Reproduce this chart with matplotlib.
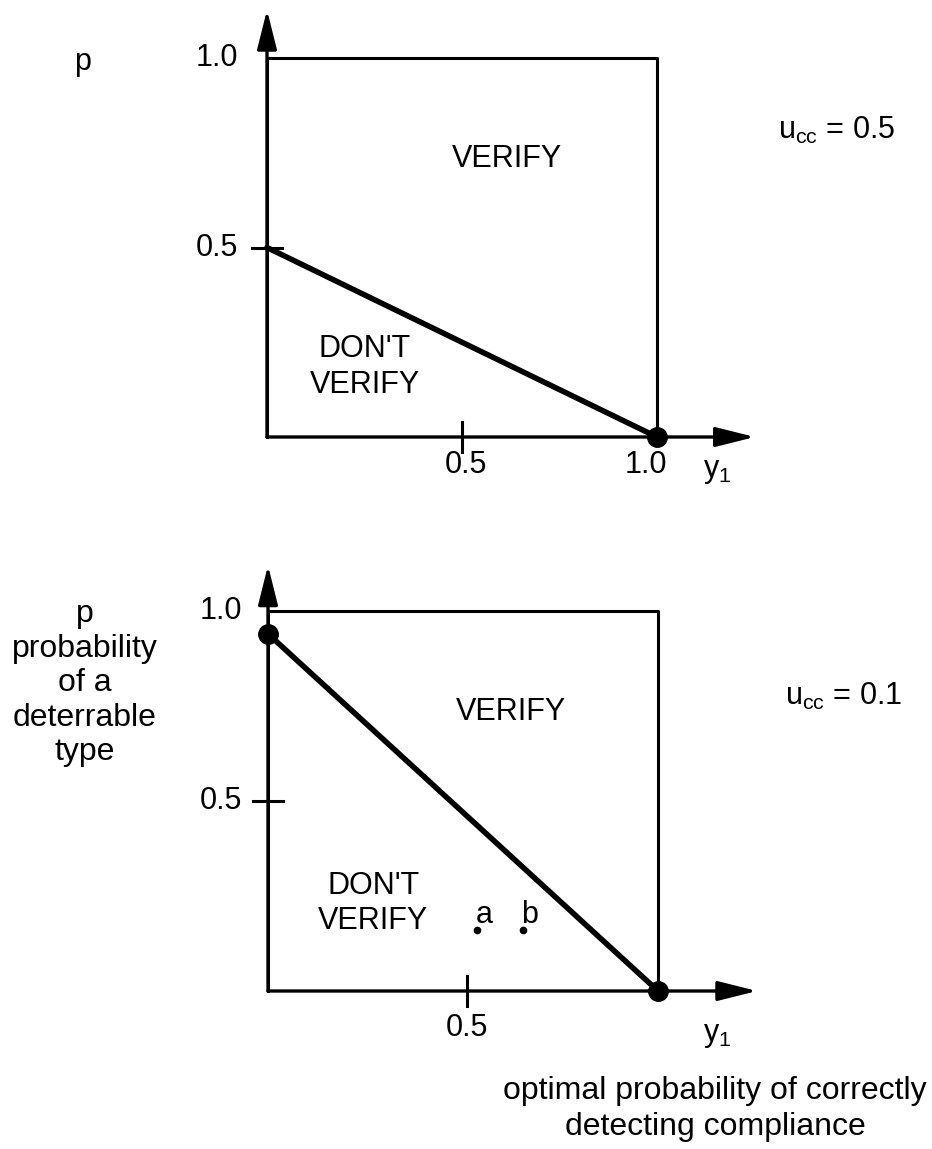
import matplotlib
matplotlib.use("Agg")
import matplotlib.pyplot as plt

# boundary lines between VERIFY / DON'T VERIFY (y1, p)
top_y1 = [0.0, 1.0]
top_p = [0.5, 0.0]
bottom_y1 = [0.0, 0.98]
bottom_p = [0.94, 0.0]

# right edge of the unit box in each panel
top_box_right = 1.0
bottom_box_right = 0.98

# the two marked points in the lower panel
point_y1 = [0.525, 0.64]
point_p = [0.16, 0.16]
point_names = ["a", "b"]

u_cc_values = ["0.5", "0.1"]

plt.rcParams["font.family"] = ["Liberation Sans", "DejaVu Sans"]
plt.rcParams["mathtext.fontset"] = "custom"
plt.rcParams["mathtext.rm"] = "Liberation Sans"

W, H = 932, 1149
FS = 22


def make_axes(fig, x0, y0, ux, uy):
    # x0, y0: pixel of the origin, ux, uy: pixels per unit
    ax = fig.add_axes([x0 / W, (H - y0) / H, ux / W, uy / H])
    ax.set_xlim(0, 1)
    ax.set_ylim(0, 1)
    ax.axis("off")
    return ax


def arrow(ax, x, y):
    ax.annotate("", xy=(x, y), xytext=(0, 0),
                arrowprops=dict(arrowstyle="-|>,head_length=1.2,head_width=0.3",
                                mutation_scale=20, lw=2.4, color="black",
                                shrinkA=0, shrinkB=0),
                annotation_clip=False)


def draw_panel(ax, box_right, line_x, line_p, xtip, ytip, ux, uy):
    # box
    ax.plot([0, box_right, box_right], [1.0, 1.0, 0], color="black", lw=2.2,
            clip_on=False, solid_capstyle="butt")
    ax.plot([0, 0], [0, 1.0], color="black", lw=2.2, clip_on=False)
    arrow(ax, xtip, 0)
    arrow(ax, 0, ytip)
    # ticks at 0.5
    tx = 15 / ux
    ty = 15 / uy
    ax.plot([-tx, tx], [0.5, 0.5], color="black", lw=2.2, clip_on=False)
    ax.plot([0.5, 0.5], [-ty, ty], color="black", lw=2.2, clip_on=False)
    # boundary
    ax.plot(line_x, line_p, color="black", lw=4, clip_on=False,
            solid_capstyle="round")


def main():
    fig = plt.figure(figsize=(W / 100, H / 100), dpi=100)

    # ---- top panel, u_cc = 0.5
    ax1 = make_axes(fig, 267, 437, 390, 379)
    draw_panel(ax1, top_box_right, top_y1, top_p, 1.251, 1.127, 390, 379)
    ax1.plot([top_y1[-1]], [top_p[-1]], "o", color="black", ms=14, clip_on=False)
    ax1.text(-0.074, 1.0, "1.0", fontsize=FS, ha="right", va="center")
    ax1.text(-0.074, 0.5, "0.5", fontsize=FS, ha="right", va="center")
    ax1.text(0.51, -0.074, "0.5", fontsize=FS, ha="center", va="center")
    ax1.text(0.972, -0.074, "1.0", fontsize=FS, ha="center", va="center")
    ax1.text(1.154, -0.09, r"y$\mathregular{_1}$", fontsize=FS, ha="center", va="center")
    ax1.text(-0.474, 0.99, "p", fontsize=FS, ha="center", va="center")
    ax1.text(1.31, 0.81, r"u$\mathregular{_{cc}}$ = " + u_cc_values[0], fontsize=FS,
             ha="left", va="center")
    ax1.text(0.615, 0.733, "VERIFY", fontsize=FS, ha="center", va="center")
    ax1.text(0.25, 0.185, "DON'T\nVERIFY", fontsize=FS, ha="center", va="center",
             multialignment="center", linespacing=1.25)

    # ---- bottom panel, u_cc = 0.1
    ax2 = make_axes(fig, 268, 991, 398, 380)
    draw_panel(ax2, bottom_box_right, bottom_y1, bottom_p, 1.229, 1.12, 398, 380)
    ax2.plot([bottom_y1[0], bottom_y1[-1]], [bottom_p[0], bottom_p[-1]], "o",
             color="black", ms=14, clip_on=False)
    ax2.plot(point_y1, point_p, "o", color="black", ms=4.5)
    for x, y, name in zip(point_y1, point_p, point_names):
        ax2.annotate(name, (x, y), xytext=(5, 11), textcoords="offset points",
                     fontsize=FS, ha="center", va="center")
    ax2.text(-0.065, 1.0, "1.0", fontsize=FS, ha="right", va="center")
    ax2.text(-0.065, 0.5, "0.5", fontsize=FS, ha="right", va="center")
    ax2.text(0.5, -0.097, "0.5", fontsize=FS, ha="center", va="center")
    ax2.text(1.128, -0.115, r"y$\mathregular{_1}$", fontsize=FS, ha="center", va="center")
    ax2.text(1.30, 0.774, r"u$\mathregular{_{cc}}$ = " + u_cc_values[1], fontsize=FS,
             ha="left", va="center")
    ax2.text(0.61, 0.733, "VERIFY", fontsize=FS, ha="center", va="center")
    ax2.text(0.265, 0.23, "DON'T\nVERIFY", fontsize=FS, ha="center", va="center",
             multialignment="center", linespacing=1.25)
    ax2.text(-0.46, 0.81, "p\nprobability\nof a\ndeterrable\ntype", fontsize=23,
             ha="center", va="center", multialignment="center", linespacing=1.2)
    ax2.text(1.123, -0.31, "optimal probability of correctly\ndetecting compliance",
             fontsize=23, ha="center", va="center", multialignment="center",
             linespacing=1.25)

    fig.savefig("out.png", dpi=100, facecolor="white")


if __name__ == "__main__":
    main()
